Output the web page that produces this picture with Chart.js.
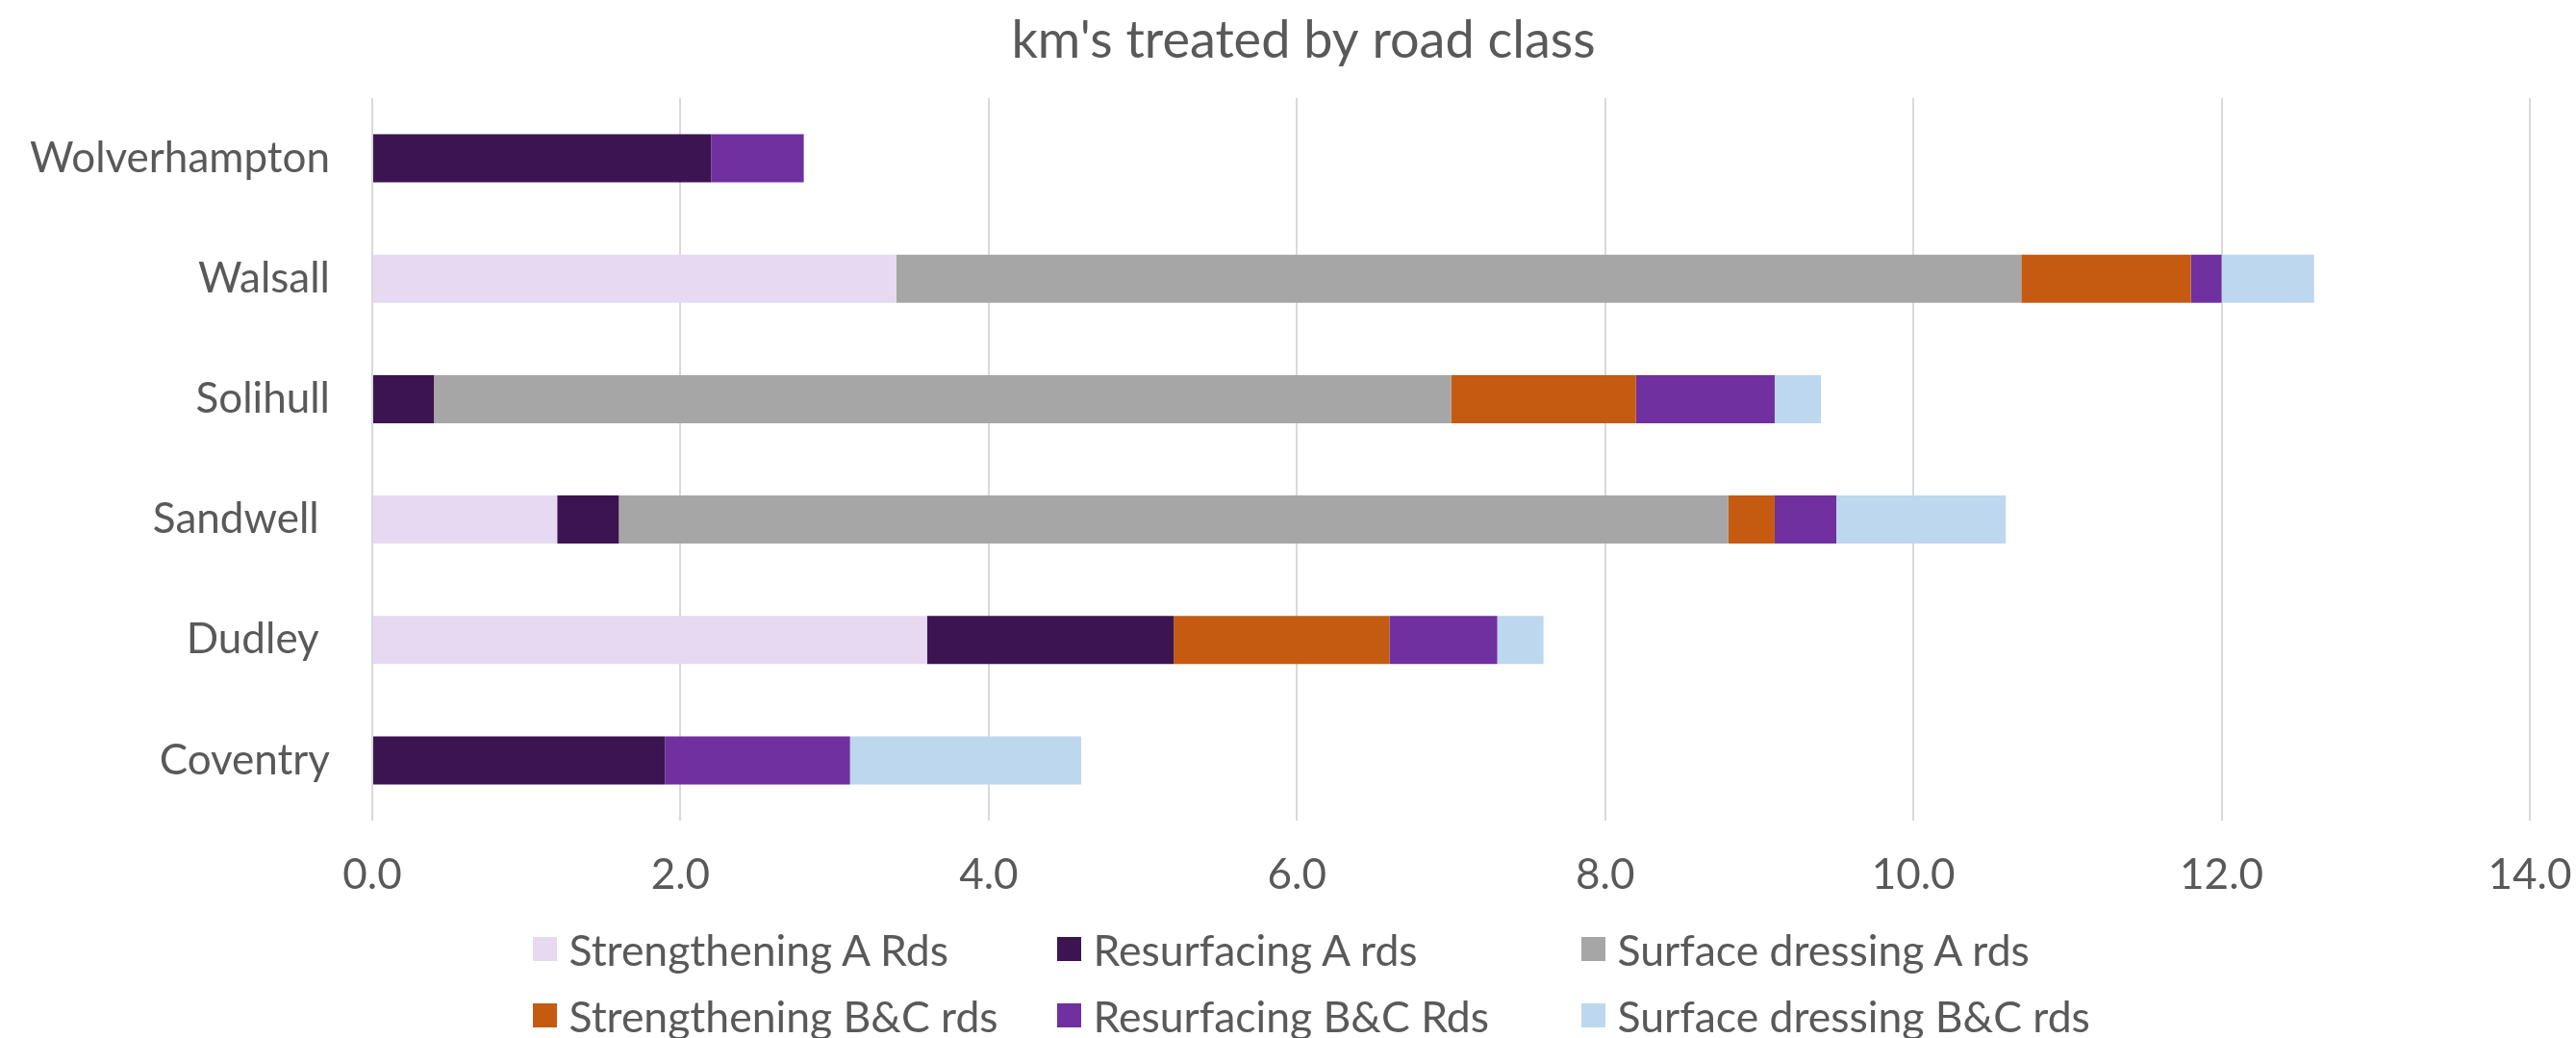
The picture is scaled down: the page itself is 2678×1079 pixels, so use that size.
<!DOCTYPE html>
<html>
<head>
<meta charset="utf-8">
<script src="https://cdn.jsdelivr.net/npm/chart.js@4.4.1/dist/chart.umd.min.js"></script>
<style>
  html, body { margin: 0; padding: 0; background: #ffffff; }
  #wrap { position: relative; width: 2678px; height: 1079px; }
  #chart { position: absolute; left: 0; top: 0; }
  #legend { position: absolute; left: 554px; top: 974px; display: grid;
            grid-template-columns: 545px 545px 545px; grid-auto-rows: 69.3px;
            font-family: Lato, sans-serif; font-size: 44.5px; color: #595959; }
  .item { display: flex; align-items: flex-start; height: 69.3px; white-space: nowrap; }
  .box { width: 25px; height: 25px; flex: 0 0 25px; margin-right: 12.5px; }
  .lbl { line-height: 25px; }
</style>
</head>
<body>
<div id="wrap">
  <canvas id="chart" width="2678" height="1079"></canvas>
  <div id="legend"></div>
</div>
<script>
const titleText = "km's treated by road class";
const categories = ['Wolverhampton', 'Walsall', 'Solihull', 'Sandwell ', 'Dudley ', 'Coventry'];
const seriesNames = ['Strengthening A Rds', 'Resurfacing A rds', 'Surface dressing A rds',
                     'Strengthening B&C rds', 'Resurfacing B&C Rds', 'Surface dressing B&C rds'];
const seriesColors = ['#E6D9F1', '#3C1451', '#A6A6A6', '#C55A11', '#7030A0', '#BDD7EE'];
const strengtheningA   = [0,   3.4, 0,   1.2, 3.6, 0];
const resurfacingA     = [2.2, 0,   0.4, 0.4, 1.6, 1.9];
const surfaceDressingA = [0,   7.3, 6.6, 7.2, 0,   0];
const strengtheningBC  = [0,   1.1, 1.2, 0.3, 1.4, 0];
const resurfacingBC    = [0.6, 0.2, 0.9, 0.4, 0.7, 1.2];
const surfaceDressingBC= [0,   0.6, 0.3, 1.1, 0.3, 1.5];
const xTickLabels = ['0.0', '2.0', '4.0', '6.0', '8.0', '10.0', '12.0', '14.0'];

const seriesValues = [strengtheningA, resurfacingA, surfaceDressingA, strengtheningBC, resurfacingBC, surfaceDressingBC];
const FONT = 'Lato';
const TEXT = '#595959';

const datasets = seriesNames.map((name, i) => ({
  label: name,
  data: seriesValues[i],
  backgroundColor: seriesColors[i],
  borderWidth: 0,
  barPercentage: 0.4,
  categoryPercentage: 1.0
}));

// shift the title's block so its centre sits where the reference centres it
const titleShift = {
  id: 'titleShift',
  beforeDraw(chart) { if (chart.titleBlock) { chart.titleBlock.left = 32; } }
};

new Chart(document.getElementById('chart'), {
  type: 'bar',
  data: { labels: categories, datasets },
  plugins: [titleShift],
  options: {
    indexAxis: 'y',
    responsive: false,
    animation: false,
    layout: { padding: { left: 0, right: 0, top: 0, bottom: 0 } },
    plugins: {
      legend: { display: false },
      tooltip: { enabled: false },
      title: {
        display: true,
        text: titleText,
        color: TEXT,
        font: { family: FONT, size: 54, weight: 'normal' },
        lineHeight: 1.2,
        padding: { top: 10, bottom: 27.2 }
      }
    },
    scales: {
      x: {
        stacked: true,
        min: 0, max: 14,
        ticks: {
          stepSize: 2,
          color: TEXT,
          font: { family: FONT, size: 44 },
          padding: 30,
          callback: (v, i) => xTickLabels[i]
        },
        grid: { color: '#D9D9D9', lineWidth: 2, drawTicks: false },
        border: { display: false },
        afterFit: (s) => { s.height = 226; s.paddingRight = 48; }
      },
      y: {
        stacked: true,
        ticks: {
          color: TEXT,
          font: { family: FONT, size: 44 },
          padding: 44
        },
        grid: { display: false, drawTicks: false },
        border: { display: false },
        afterFit: (s) => { s.width = 387; }
      }
    }
  }
});

const legend = document.getElementById('legend');
seriesNames.forEach((name, i) => {
  const item = document.createElement('div');
  item.className = 'item';
  const box = document.createElement('span');
  box.className = 'box';
  box.style.background = seriesColors[i];
  const lbl = document.createElement('span');
  lbl.className = 'lbl';
  lbl.textContent = name;
  item.appendChild(box);
  item.appendChild(lbl);
  legend.appendChild(item);
});
</script>
</body>
</html>
